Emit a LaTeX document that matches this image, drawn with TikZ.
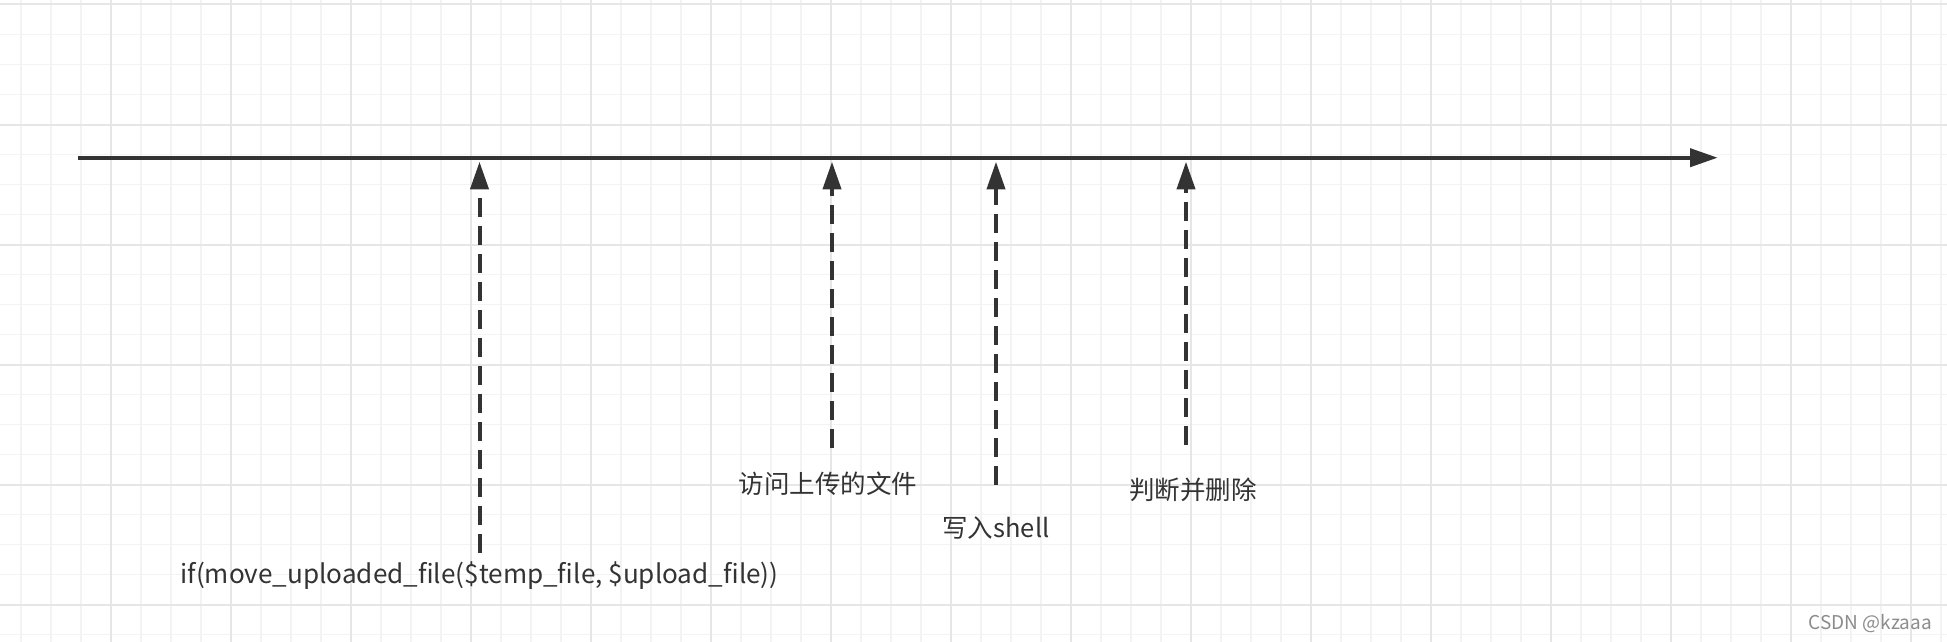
\documentclass[tikz,border=0pt]{standalone}
\usepackage{fontspec}
\setmainfont{Noto Sans CJK SC}
\usepackage{xcolor}
\usepackage{tikz}
\usetikzlibrary{arrows.meta,positioning,calc}
\definecolor{inkgray}{RGB}{51,51,51}
\definecolor{gridminor}{RGB}{243,243,243}
\definecolor{gridmajor}{RGB}{230,230,230}
\definecolor{wmgray}{RGB}{140,140,140}
\tikzset{
  minorline/.style={draw=gridminor, line width=1.5pt},
  majorline/.style={draw=gridmajor, line width=2pt},
  timeline/.style ={draw=inkgray, line width=4pt, -{Triangle[length=27.7pt, width=18pt]}},
  event/.style    ={draw=inkgray, line width=4pt, dash pattern=on 19pt off 9pt, -{Triangle[length=27.7pt, width=18pt]}},
  lbl/.style      ={text=inkgray, font=\fontsize{25.5}{30}\selectfont, inner sep=0pt},
  wmark/.style    ={text=wmgray, font=\fontsize{19}{22}\selectfont, inner sep=0pt}
}

\begin{document}
\begin{tikzpicture}[x=1pt, y=-1pt]
  \useasboundingbox[fill=white] (0,0) rectangle (1947,642);
  % grid
  \foreach \i in {0,...,64} \draw[minorline] ({21+30*\i},0) -- ++(0,642);
  \foreach \j in {0,...,21} \draw[minorline] (0,{4.5+30*\j}) -- ++(1947,0);
  \foreach \i in {0,...,15} \draw[majorline] ({111+120*\i},0) -- ++(0,642);
  \foreach \j in {0,...,5} \draw[majorline] (0,{4.5+120*\j}) -- ++(1947,0);
  % time axis
  \coordinate (t0) at (78,157.7);
  \coordinate (t1) at (1717.7,157.7);
  \coordinate (hit) at (78,161.7);
  \draw[timeline] (t0) -- (t1);
  % events
  \coordinate (e1) at (479.5,553.3);
  \coordinate (e2) at (832,448.3);
  \coordinate (e3) at (996,485);
  \coordinate (e4) at (1186,445);
  \foreach \e in {e1,e2,e3,e4} \draw[event] (\e) -- (\e |- hit);
  \node[lbl, font=\fontsize{26.1}{30}\selectfont] (mv) at (479.5,576) {if(move\_uploaded\_file(\$temp\_file, \$upload\_file))};
  \node[lbl] (fw) at (828,483.5) {访问上传的文件};
  \node[lbl] (xs) at (996,528) {写入shell};
  \node[lbl] (pd) at (1193,490) {判断并删除};
  \node[wmark, anchor=east] (wm) at (1932,624) {CSDN @kzaaa};
\end{tikzpicture}
\end{document}
